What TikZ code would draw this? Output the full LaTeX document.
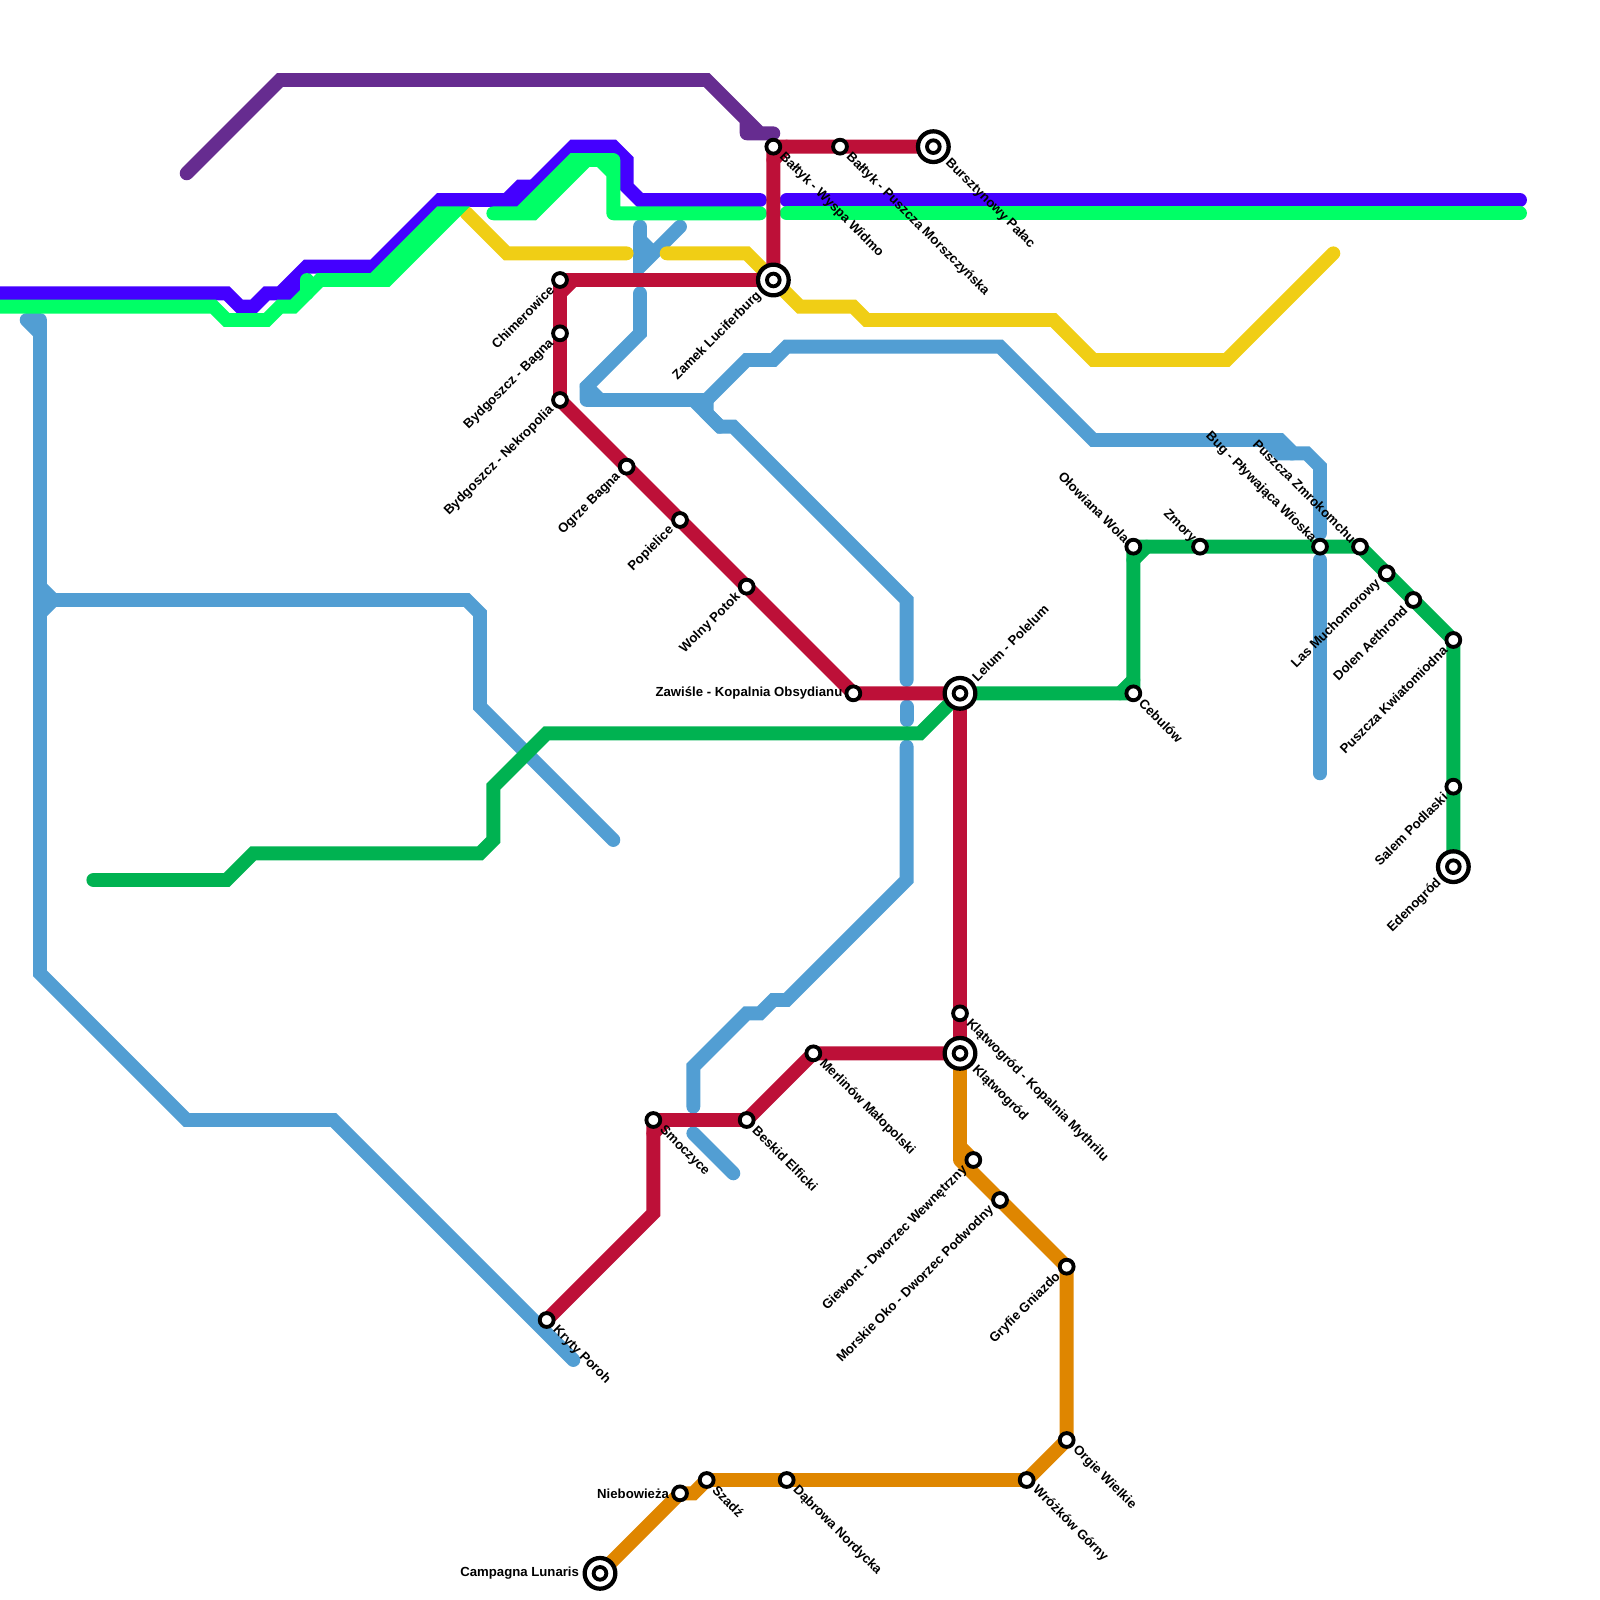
\documentclass[tikz,border=0pt]{standalone}
\usepackage{fontspec}
\setmainfont{Liberation Sans}
\usetikzlibrary{backgrounds}
\definecolor{red1}{RGB}{189, 16, 56}
\definecolor{orange1}{RGB}{223, 134, 0}
\definecolor{yellow1}{RGB}{240, 206, 21}
\definecolor{purple1}{RGB}{102, 44, 144}
\definecolor{sky1}{RGB}{82, 158, 211}
\definecolor{indigo1}{RGB}{68, 0, 255}
\definecolor{lime1}{RGB}{0, 255, 102}
\definecolor{green1}{RGB}{0, 178, 81}
\tikzset{
  rail/.style={line width=0.26cm, line cap=round, line join=miter},
  stn/.style={circle, draw=black, fill=white, line width=0.072cm, minimum size=0.26cm, inner sep=0pt},
  hubdot/.style={circle, draw=black, fill=white, line width=0.072cm, minimum size=0.238cm, inner sep=0pt},
  hub/.style={circle, draw=black, fill=white, line width=0.08cm, minimum size=0.5756cm, inner sep=0pt, label={[hubdot]center:{}}},
  lbl/.style={inner sep=0pt, font=\bfseries\fontsize{7.03}{8}\selectfont},
  lblse/.style={lbl, shift={(#1,#1)}, rotate=-45, anchor=west},
  lblse/.default=0.6,
  lblsw/.style={lbl, shift={(-#1,#1)}, rotate=45, anchor=east},
  lblsw/.default=0.6,
  lblne/.style={lbl, shift={(#1,-#1)}, rotate=45, anchor=west},
  lblne/.default=1.05,
  lblnw/.style={lbl, shift={(-#1,-#1)}, rotate=-45, anchor=east},
  lblnw/.default=0.45,
  lblw/.style={lbl, shift={(-#1,0)}, anchor=east},
  lblw/.default=0.8
}
\begin{document}
\begin{tikzpicture}[x=0.25cm, y=-0.25cm]
  \useasboundingbox (0,0) rectangle (120,120);

  % red line stations
  \node[hub] (bursztyn) at (70,11) {}; \node[lblse=1.05] (bursztynt) at (bursztyn) {Bursztynowy Pałac};
  \node[stn] (puszcza) at (63,11) {}; \node[lblse] (puszczat) at (puszcza) {Bałtyk - Puszcza Morszczyńska};
  \node[stn] (wyspa) at (58,11) {}; \node[lblse] (wyspat) at (wyspa) {Bałtyk - Wyspa Widmo};
  \node[hub] (zamek) at (58,21) {}; \node[lblsw=1.05] (zamekt) at (zamek) {Zamek Luciferburg};
  \node[stn] (chimer) at (42,21) {}; \node[lblsw] (chimert) at (chimer) {Chimerowice};
  \node[stn] (bagna) at (42,25) {}; \node[lblsw] (bagnat) at (bagna) {Bydgoszcz - Bagna};
  \node[stn] (nekro) at (42,30) {}; \node[lblsw] (nekrot) at (nekro) {Bydgoszcz - Nekropolia};
  \node[stn] (ogrze) at (47,35) {}; \node[lblsw] (ogrzet) at (ogrze) {Ogrze Bagna};
  \node[stn] (popiel) at (51,39) {}; \node[lblsw] (popielt) at (popiel) {Popielice};
  \node[stn] (potok) at (56,44) {}; \node[lblsw] (potokt) at (potok) {Wolny Potok};
  \node[stn] (zawisle) at (64,52) {}; \node[lblw] (zawislet) at (zawisle) {Zawiśle - Kopalnia Obsydianu};
  \node[hub] (lelum) at (72,52) {}; \node[lblne] (lelumt) at (lelum) {Lelum - Polelum};
  \node[stn] (mythril) at (72,76) {}; \node[lblse] (mythrilt) at (mythril) {Klątwogród - Kopalnia Mythrilu};
  \node[hub] (klatwo) at (72,79) {}; \node[lblse=1.05] (klatwot) at (klatwo) {Klątwogród};
  \node[stn] (merlin) at (61,79) {}; \node[lblse] (merlint) at (merlin) {Merlinów Małopolski};
  \node[stn] (beskid) at (56,84) {}; \node[lblse] (beskidt) at (beskid) {Beskid Elficki};
  \node[stn] (smocz) at (49,84) {}; \node[lblse] (smoczt) at (smocz) {Smoczyce};
  \node[stn] (kryty) at (41,99) {}; \node[lblse] (krytyt) at (kryty) {Kryty Poroh};

  % orange line stations
  \node[stn] (giewont) at (73,87) {}; \node[lblsw] (giewontt) at (giewont) {Giewont - Dworzec Wewnętrzny};
  \node[stn] (morskie) at (75,90) {}; \node[lblsw] (morskiet) at (morskie) {Morskie Oko - Dworzec Podwodny};
  \node[stn] (gryfie) at (80,95) {}; \node[lblsw] (gryfiet) at (gryfie) {Gryfie Gniazdo};
  \node[stn] (orgie) at (80,108) {}; \node[lblse] (orgiet) at (orgie) {Orgie Wielkie};
  \node[stn] (wrozkow) at (77,111) {}; \node[lblse] (wrozkowt) at (wrozkow) {Wróżków Górny};
  \node[stn] (dabrowa) at (59,111) {}; \node[lblse] (dabrowat) at (dabrowa) {Dąbrowa Nordycka};
  \node[stn] (szadz) at (53,111) {}; \node[lblse] (szadzt) at (szadz) {Szadź};
  \node[stn] (niebo) at (51,112) {}; \node[lblw] (niebot) at (niebo) {Niebowieża};
  \node[hub] (campagna) at (45,118) {}; \node[lblw=1.55] (campagnat) at (campagna) {Campagna Lunaris};

  % green line stations
  \node[stn] (cebulow) at (85,52) {}; \node[lblse] (cebulowt) at (cebulow) {Cebulów};
  \node[stn] (olowiana) at (85,41) {}; \node[lblnw] (olowianat) at (olowiana) {Ołowiana Wola};
  \node[stn] (zmory) at (90,41) {}; \node[lblnw] (zmoryt) at (zmory) {Zmory};
  \node[stn] (bug) at (99,41) {}; \node[lblnw] (bugt) at (bug) {Bug - Pływająca Wioska};
  \node[stn] (zmrok) at (102,41) {}; \node[lblnw] (zmrokt) at (zmrok) {Puszcza Zmrokomchu};
  \node[stn] (mucho) at (104,43) {}; \node[lblsw] (muchot) at (mucho) {Las Muchomorowy};
  \node[stn] (dolen) at (106,45) {}; \node[lblsw] (dolent) at (dolen) {Dolen Aethrond};
  \node[stn] (kwiat) at (109,48) {}; \node[lblsw] (kwiatt) at (kwiat) {Puszcza Kwiatomiodna};
  \node[stn] (salem) at (109,59) {}; \node[lblsw] (salemt) at (salem) {Salem Podlaski};
  \node[hub] (eden) at (109,65) {}; \node[lblsw=1.05] (edent) at (eden) {Edenogród};

  % lines go under the stations
  \begin{scope}[on background layer]
    \draw[rail, purple1] (14,13) -- (21,6) -- (53,6) -- (57,10) -- (58,10) (56,9) -- (56,10) (56,10) -- (57,10);
    \draw[rail, sky1] (2,24) -- (3,25) -- (3,73) -- (14,84) -- (25,84) -- (43,102) (2,24) -- (3,24) (3,24) -- (3,25);
    \draw[rail, sky1] (3,44) -- (4,45) -- (35,45) -- (36,46) -- (36,53) -- (46,63) (3,46) -- (4,45);
    \draw[rail, sky1] (48,17) -- (48,20) -- (51,17) (48,18) -- (49,19);
    \draw[rail, sky1] (48,22) -- (48,25) -- (44,29) -- (44,30) (44,30) -- (53,30) -- (56,27) -- (58,27) -- (59,26) -- (75,26) -- (82,33) -- (96,33) -- (97,34) -- (98,34) -- (99,35) -- (99,40);
    \draw[rail, sky1] (44,29) -- (45,30) (95,33) -- (96,34) -- (97,34) (53,30) -- (53,31) -- (54,32);
    \draw[rail, sky1] (99,42) -- (99,58);
    \draw[rail, sky1] (52,30) -- (54,32) -- (55,32) -- (68,45) -- (68,51);
    \draw[rail, sky1] (68,53) -- (68,54);
    \draw[rail, sky1] (68,56) -- (68,66) -- (59,75) -- (58,75) -- (57,76) -- (56,76) -- (52,80) -- (52,83);
    \draw[rail, sky1] (52,85) -- (55,88);
    \draw[rail, yellow1] (35,16) -- (38,19) -- (47,19);
    \draw[rail, yellow1] (50,19) -- (56,19) -- (60,23) -- (64,23) -- (65,24) -- (79,24) -- (82,27) -- (92,27) -- (100,19);
    \draw[rail, indigo1] (0,22) -- (17,22) -- (18,23) -- (19,23) -- (20,22) -- (21,22) -- (23,20) -- (28,20) -- (33,15) -- (39,15) -- (43,11) -- (46,11) -- (47,12) -- (47,14) -- (48,15) -- (57,15);
    \draw[rail, indigo1] (21,22) -- (22,22) -- (23,21) (38,15) -- (39,14) -- (40,14);
    \draw[rail, indigo1] (59,15) -- (114,15);
    \draw[rail, lime1] (0,23) -- (16,23) -- (17,24) -- (20,24) -- (21,23) -- (22,23) -- (24,21) -- (29,21) -- (34,16) -- (33,16) -- (28,21);
    \draw[rail, lime1] (23,22) -- (23,21);
    \draw[rail, lime1] (37,16) -- (40,16) -- (44,12) -- (45,12) -- (46,13) (39,16) -- (43,12) -- (46,12) (46,12) -- (46,16) (46,16) -- (57,16);
    \draw[rail, lime1] (59,16) -- (114,16);
    \draw[rail, green1] (7,66) -- (17,66) -- (19,64) -- (36,64) -- (37,63) -- (37,59) -- (41,55) -- (69,55) -- (lelum.center);
    \draw[rail, green1] (lelum.center) -- (cebulow.center) (cebulow.center) -- (olowiana.center) (olowiana.center) -- (zmrok.center) -- (kwiat.center) -- (eden.center);
    \draw[rail, green1] (84,52) -- (85,51) (85,42) -- (86,41);
    \draw[rail, red1] (bursztyn.center) -- (wyspa.center) (wyspa.center) -- (zamek.center) (zamek.center) -- (chimer.center) (chimer.center) -- (nekro.center) -- (zawisle.center) -- (lelum.center) (lelum.center) -- (klatwo.center) (klatwo.center) -- (merlin.center) -- (beskid.center) -- (smocz.center) (smocz.center) -- (49,91) -- (kryty.center);
    \draw[rail, red1] (43,21) -- (42,22) (58,12) -- (59,11) (49,85) -- (50,84);
    \draw[rail, orange1] (klatwo.center) -- (72,87) (72,87) -- (gryfie.center) -- (orgie.center) -- (wrozkow.center) -- (szadz.center) -- (52,112) -- (niebo.center) -- (campagna.center);
    \draw[rail, orange1] (72,86) -- (giewont.center);
  \end{scope}
\end{tikzpicture}
\end{document}
